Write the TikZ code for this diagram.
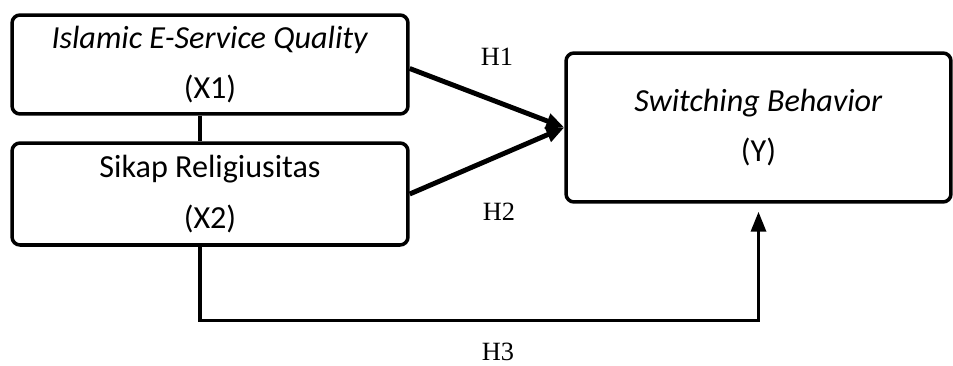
\documentclass[tikz,border=0pt]{standalone}
\usepackage{fontspec}
\setmainfont{Carlito}
\newfontfamily\hfont{Liberation Serif}
\usetikzlibrary{calc}
\usetikzlibrary{arrows.meta}

\begin{document}
\begin{tikzpicture}[x=0.02cm,y=-0.02cm,
	varbox/.style={draw,line width=2pt,rounded corners=0.16cm,align=center,
		inner sep=0pt,font=\fontsize{18.3}{22}\selectfont},
	hyparrow/.style={line width=2.8pt,-{Triangle[length=0.36cm,width=0.3cm]}},
	hyplabel/.style={font=\hfont\fontsize{15}{17}\selectfont}]
	\useasboundingbox (0,0) rectangle (953,365);
	% variables
	\node[varbox,minimum width=7.92cm,minimum height=1.98cm] (x1) at (210,64.5)
		{\textit{Islamic E-Service Quality}\\[0.24cm](X1)};
	\node[varbox,minimum width=7.92cm,minimum height=2.04cm] (x2) at (210,194)
		{Sikap Religiusitas\\[0.24cm](X2)};
	\node[varbox,minimum width=7.7cm,minimum height=2.98cm] (y) at (758.5,127.5)
		{\textit{Switching Behavior}\\[0.24cm](Y)};
	% paths
	\draw[line width=2pt] ([xshift=-0.2cm]x1.south) -- ([xshift=-0.2cm]x2.north);
	\draw[hyparrow] ($(x1.east)+(0,4)$) -- (y.west);
	\draw[hyparrow] (x2.east) -- (y.west);
	\draw[line width=1.9pt,-{Triangle[length=0.4cm,width=0.3cm]},shorten >=0.16cm]
		([xshift=-0.2cm]x2.south) -- ++(0,74) -| (y.south);
	\node[hyplabel] (h1) at (497,57) {H1};
	\node[hyplabel] (h2) at (499,212) {H2};
	\node[hyplabel] (h3) at (498,352) {H3};
\end{tikzpicture}
\end{document}
